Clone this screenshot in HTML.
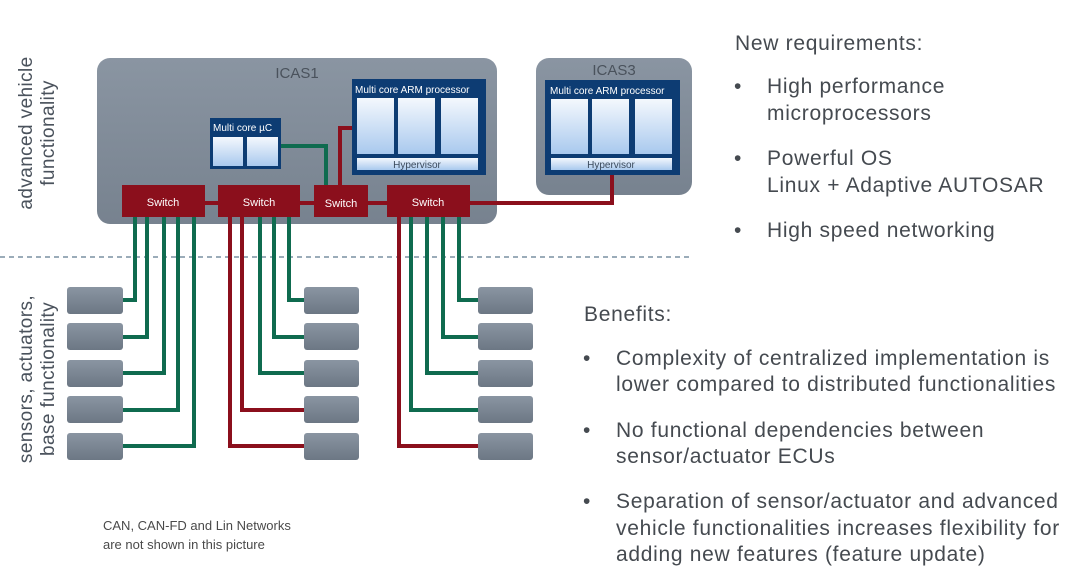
<!DOCTYPE html>
<html><head><meta charset="utf-8"><style>
html,body{margin:0;padding:0;background:#fff}
svg{display:block}
text{font-family:"Liberation Sans",Arial,sans-serif}
</style></head><body>
<svg width="1080" height="574" viewBox="0 0 1080 574" xmlns="http://www.w3.org/2000/svg">
<defs>
<linearGradient id="core" x1="0" y1="0" x2="0" y2="1"><stop offset="0" stop-color="#f4f8fd"/><stop offset="1" stop-color="#a9c9ee"/></linearGradient>
<linearGradient id="box" x1="0" y1="0" x2="0" y2="1"><stop offset="0" stop-color="#8a95a2"/><stop offset="1" stop-color="#6c7784"/></linearGradient>
<linearGradient id="icas" x1="0" y1="0" x2="0" y2="1"><stop offset="0" stop-color="#8a95a2"/><stop offset="1" stop-color="#77828f"/></linearGradient>
</defs>
<line x1="0" y1="257" x2="690" y2="257" stroke="#5f7a8f" stroke-width="1.2" stroke-dasharray="5,4"/>
<rect x="97" y="58" width="400" height="166" rx="13" fill="url(#icas)"/>
<text x="297" y="78" font-size="15" fill="#4a525c" text-anchor="middle">ICAS1</text>
<rect x="536" y="58" width="156" height="137" rx="13" fill="url(#icas)"/>
<text x="614" y="75" font-size="15" fill="#4a525c" text-anchor="middle">ICAS3</text>
<polyline points="281,146 326,146 326,188" fill="none" stroke="#0f6b4f" stroke-width="4"/>
<polyline points="352,128 340,128 340,188" fill="none" stroke="#8b0f1c" stroke-width="4"/>
<polyline points="612,174 612,203 470,203" fill="none" stroke="#8b0f1c" stroke-width="4"/>
<line x1="205" y1="203" x2="387" y2="203" stroke="#8b0f1c" stroke-width="4"/>
<rect x="210" y="118" width="71" height="51" fill="#0d3c73"/>
<text x="213" y="131" font-size="10" fill="#fff">Multi core µC</text>
<rect x="213" y="137" width="30" height="29" fill="url(#core)"/>
<rect x="247" y="137" width="31" height="29" fill="url(#core)"/>
<g>
<rect x="352" y="79" width="134" height="96" fill="#0d3c73"/>
<text x="355" y="93" font-size="10" fill="#fff">Multi core ARM processor</text>
<rect x="357" y="98" width="37" height="56" fill="url(#core)"/>
<rect x="398" y="98" width="37" height="56" fill="url(#core)"/>
<rect x="441" y="98" width="37" height="56" fill="url(#core)"/>
<rect x="357" y="158" width="121" height="12" fill="url(#core)"/>
<text x="417" y="168" font-size="10" fill="#3b4a5c" text-anchor="middle">Hypervisor</text>
</g>
<g>
<rect x="545" y="80" width="135" height="95" fill="#0d3c73"/>
<text x="550" y="94" font-size="10" fill="#fff">Multi core ARM processor</text>
<rect x="551" y="99" width="37" height="55" fill="url(#core)"/>
<rect x="592" y="99" width="37" height="55" fill="url(#core)"/>
<rect x="635" y="99" width="37" height="55" fill="url(#core)"/>
<rect x="551" y="158" width="121" height="12" fill="url(#core)"/>
<text x="611" y="168" font-size="10" fill="#3b4a5c" text-anchor="middle">Hypervisor</text>
</g>
<g fill="#8b0f1c">
<rect x="122" y="185" width="83" height="32"/>
<rect x="218" y="185" width="82" height="32"/>
<rect x="314" y="185" width="54" height="32"/>
<rect x="387" y="185" width="83" height="32"/>
</g>
<g font-size="11" fill="#fff" text-anchor="middle">
<text x="163" y="206">Switch</text><text x="259" y="206">Switch</text><text x="341" y="207">Switch</text><text x="428" y="206">Switch</text>
</g>
<g fill="none" stroke-width="4">
<polyline points="135,217 135,300 123,300" stroke="#0f6b4f"/>
<polyline points="147,217 147,337 123,337" stroke="#0f6b4f"/>
<polyline points="164,217 164,373 123,373" stroke="#0f6b4f"/>
<polyline points="178,217 178,410 123,410" stroke="#0f6b4f"/>
<polyline points="194,217 194,446 123,446" stroke="#0f6b4f"/>
<polyline points="289,217 289,300 304,300" stroke="#0f6b4f"/>
<polyline points="274,217 274,337 304,337" stroke="#0f6b4f"/>
<polyline points="260,217 260,373 304,373" stroke="#0f6b4f"/>
<polyline points="242,217 242,410 304,410" stroke="#8b0f1c"/>
<polyline points="230,217 230,446 304,446" stroke="#8b0f1c"/>
<polyline points="459,217 459,300 478,300" stroke="#0f6b4f"/>
<polyline points="443,217 443,337 478,337" stroke="#0f6b4f"/>
<polyline points="427,217 427,373 478,373" stroke="#0f6b4f"/>
<polyline points="411,217 411,410 478,410" stroke="#0f6b4f"/>
<polyline points="399,217 399,446 478,446" stroke="#8b0f1c"/>
</g>
<g fill="url(#box)">
<rect x="67" y="287" width="56" height="27" rx="3"/><rect x="67" y="323" width="56" height="27" rx="3"/><rect x="67" y="360" width="56" height="27" rx="3"/><rect x="67" y="396" width="56" height="27" rx="3"/><rect x="67" y="433" width="56" height="27" rx="3"/>
<rect x="304" y="287" width="55" height="27" rx="3"/><rect x="304" y="323" width="55" height="27" rx="3"/><rect x="304" y="360" width="55" height="27" rx="3"/><rect x="304" y="396" width="55" height="27" rx="3"/><rect x="304" y="433" width="55" height="27" rx="3"/>
<rect x="478" y="287" width="55" height="27" rx="3"/><rect x="478" y="323" width="55" height="27" rx="3"/><rect x="478" y="360" width="55" height="27" rx="3"/><rect x="478" y="396" width="55" height="27" rx="3"/><rect x="478" y="433" width="55" height="27" rx="3"/>
</g>
<g font-size="19" fill="#4a525c" text-anchor="middle" letter-spacing="0.4">
<text transform="translate(32,133) rotate(-90)">advanced vehicle</text>
<text transform="translate(54,133) rotate(-90)">functionality</text>
<text transform="translate(32,379) rotate(-90)">sensors, actuators,</text>
<text transform="translate(54,379) rotate(-90)">base functionality</text>
</g>
<g font-size="13" fill="#4a4a4a">
<text x="103" y="530">CAN, CAN-FD and Lin Networks</text>
<text x="103" y="549">are not shown in this picture</text>
</g>
<g font-size="21" fill="#454a50" letter-spacing="0.7">
<text x="735" y="50">New requirements:</text>
<text x="734" y="93">•</text><text x="767" y="93">High performance</text>
<text x="767" y="120">microprocessors</text>
<text x="734" y="165">•</text><text x="767" y="165">Powerful OS</text>
<text x="767" y="192">Linux + Adaptive AUTOSAR</text>
<text x="734" y="237">•</text><text x="767" y="237">High speed networking</text>
<text x="584" y="321">Benefits:</text>
<text x="583" y="365">•</text><text x="616" y="365">Complexity of centralized implementation is</text>
<text x="616" y="391">lower compared to distributed functionalities</text>
<text x="583" y="437">•</text><text x="616" y="437">No functional dependencies between</text>
<text x="616" y="463">sensor/actuator ECUs</text>
<text x="583" y="508">•</text><text x="616" y="508">Separation of sensor/actuator and advanced</text>
<text x="616" y="535">vehicle functionalities increases flexibility for</text>
<text x="616" y="561">adding new features (feature update)</text>
</g>
</svg>
</body></html>
